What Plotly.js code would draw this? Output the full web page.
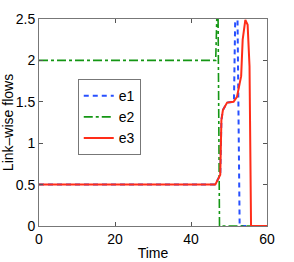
<!DOCTYPE html>
<html><head><meta charset="utf-8">
<script src="https://cdn.plot.ly/plotly-3.0.1.min.js"></script>
<style>html,body{margin:0;padding:0;background:#fff}#c{width:294px;height:262px}</style>
</head><body><div id="c"></div>
<script>
const e1Time = [0, 46.4, 47.7, 48.0, 48.4, 49.5, 51.3, 51.7, 52.2, 52.8, 60];
const e1Flow = [0.5, 0.5, 0.62, 1.28, 1.40, 1.49, 1.5, 2.7, 2.7, 0, 0];
const e2Time = [0, 46.5, 46.9, 47.1, 47.5, 60];
const e2Flow = [2, 2, 2.7, 2.7, 0, 0];
const e3Time = [0, 46.4, 47.7, 48.0, 48.4, 49.5, 51.2, 52.1, 52.8, 53.2, 53.6, 54.3, 54.9, 55.4, 55.8, 60];
const e3Flow = [0.5, 0.5, 0.62, 1.28, 1.40, 1.49, 1.5, 1.56, 1.72, 1.81, 2.25, 2.49, 2.43, 1.93, 0, 0];
const xTicks = [0, 20, 40, 60];
const yTicks = [0, 0.5, 1, 1.5, 2, 2.5];
const yTickText = ['0', '0.5', '1', '1.5', '2', '2.5'];

const traces = [
  {x: e1Time, y: e1Flow, name: 'e1', mode: 'lines', line: {color: 'rgb(40,80,255)', width: 2, dash: '5px,4px'}},
  {x: e2Time, y: e2Flow, name: 'e2', mode: 'lines', line: {color: 'rgb(20,150,20)', width: 1.6, dash: 'dashdot'}},
  {x: e3Time, y: e3Flow, name: 'e3', mode: 'lines', line: {color: 'rgb(255,45,25)', width: 2}}
];
const font = {family: 'Liberation Sans, Arial, sans-serif', size: 14, color: '#000'};
const layout = {
  width: 294, height: 262,
  margin: {l: 39, r: 27, t: 19, b: 36},
  paper_bgcolor: '#fff', plot_bgcolor: '#fff',
  font: font,
  showlegend: true,
  legend: {x: 0.17, y: 0.71, xanchor: 'left', yanchor: 'top', bgcolor: '#fff', bordercolor: '#777', borderwidth: 1, font: {family: font.family, size: 14}, tracegroupgap: 0},
  xaxis: {range: [0, 60], tickvals: xTicks, ticks: 'inside', ticklen: 4, tickcolor: '#555', showline: true, linecolor: '#777', mirror: 'ticks', showgrid: false, zeroline: false,
          title: {text: 'Time', font: font, standoff: 2}, tickfont: font},
  yaxis: {range: [0, 2.5], tickvals: yTicks, ticktext: yTickText, ticks: 'inside', ticklen: 4, tickcolor: '#555', showline: true, linecolor: '#777', mirror: 'ticks', showgrid: false, zeroline: false,
          title: {text: 'Link\u2013wise flows', font: font, standoff: 4}, tickfont: font}
};
Plotly.newPlot('c', traces, layout, {staticPlot: true});
</script></body></html>
